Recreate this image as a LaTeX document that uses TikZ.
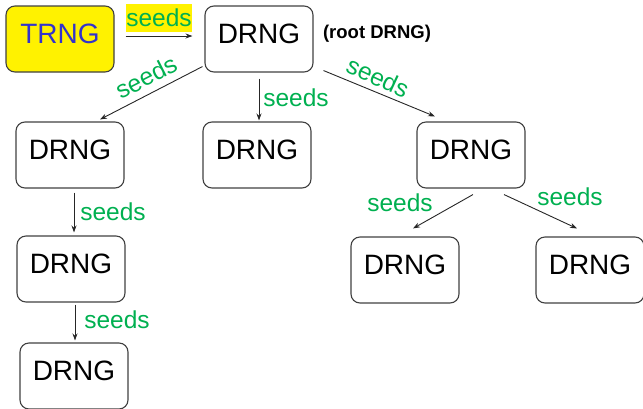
\documentclass[tikz,border=0pt]{standalone}
\usepackage{fontspec}
\setmainfont{Liberation Sans}
\usetikzlibrary{arrows.meta}
\definecolor{seedgreen}{HTML}{00B050}
\definecolor{trngblue}{HTML}{3333CC}
\definecolor{boxgray}{HTML}{404040}
\begin{document}
\begin{tikzpicture}[x=1pt,y=-1pt,
  box/.style={draw=boxgray,line width=1.1pt,rounded corners=9pt,minimum width=108pt,minimum height=66pt,inner sep=0pt,text height=20pt,text depth=12pt,font=\fontsize{28}{30}\selectfont},
  arr/.style={draw=black!85,line width=0.9pt,-{Stealth[length=7pt,width=5pt]}},
  lab/.style={text=seedgreen,font=\fontsize{24.5}{26}\selectfont,inner sep=0pt}]
\useasboundingbox (0,0) rectangle (643,408);
% boxes
\node[box,fill=yellow,text=trngblue] (trng) at (60,39) {TRNG};
\node[box] (root) at (259,39) {DRNG};
\node[font=\bfseries\fontsize{18.5}{20}\selectfont,inner sep=0pt] (rootlab) at (377,34) {(root DRNG)};
\node[box] (l1) at (70,155) {DRNG};
\node[box] (m1) at (257,155) {DRNG};
\node[box] (r1) at (471,155) {DRNG};
\node[box] (l2) at (71,269) {DRNG};
\node[box] (l3) at (74,376) {DRNG};
\node[box] (r2a) at (405,270) {DRNG};
\node[box] (r2b) at (590,270) {DRNG};
% connectors
\draw[arr] ([shift={(11,-3)}]trng.east) -- ([shift={(-12,-3)}]root.west);
\draw[arr] ([shift={(-2,-6)}]root.south west) -- ([shift={(30,-2)}]l1.north);
\draw[arr] ([shift={(0,6)}]root.south) -- ([shift={(2,-1)}]m1.north);
\draw[arr] ([shift={(10,-2)}]root.south east) -- ([shift={(-36,-5)}]r1.north);
\draw[arr] ([shift={(4,4)}]l1.south) -- ([shift={(3,-3)}]l2.north);
\draw[arr] ([shift={(4,2)}]l2.south) -- ([shift={(1,-2)}]l3.north);
\draw[arr] ([shift={(2,6)}]r1.south) -- ([shift={(8,-8)}]r2a.north);
\draw[arr] ([shift={(33,6)}]r1.south) -- ([shift={(-13,-8)}]r2b.north);
% labels
\node[lab,fill=yellow,inner xsep=0.5pt,inner ysep=5pt] (s0) at (159,18) {seeds};
\node[lab,rotate=27] (s1) at (146,77) {seeds};
\node[lab] (s2) at (296,98) {seeds};
\node[lab,rotate=-25] (s3) at (378,77) {seeds};
\node[lab] (s4) at (113,212) {seeds};
\node[lab] (s5) at (117,320) {seeds};
\node[lab] (s6) at (400,203) {seeds};
\node[lab] (s7) at (570,197) {seeds};
\end{tikzpicture}
\end{document}
